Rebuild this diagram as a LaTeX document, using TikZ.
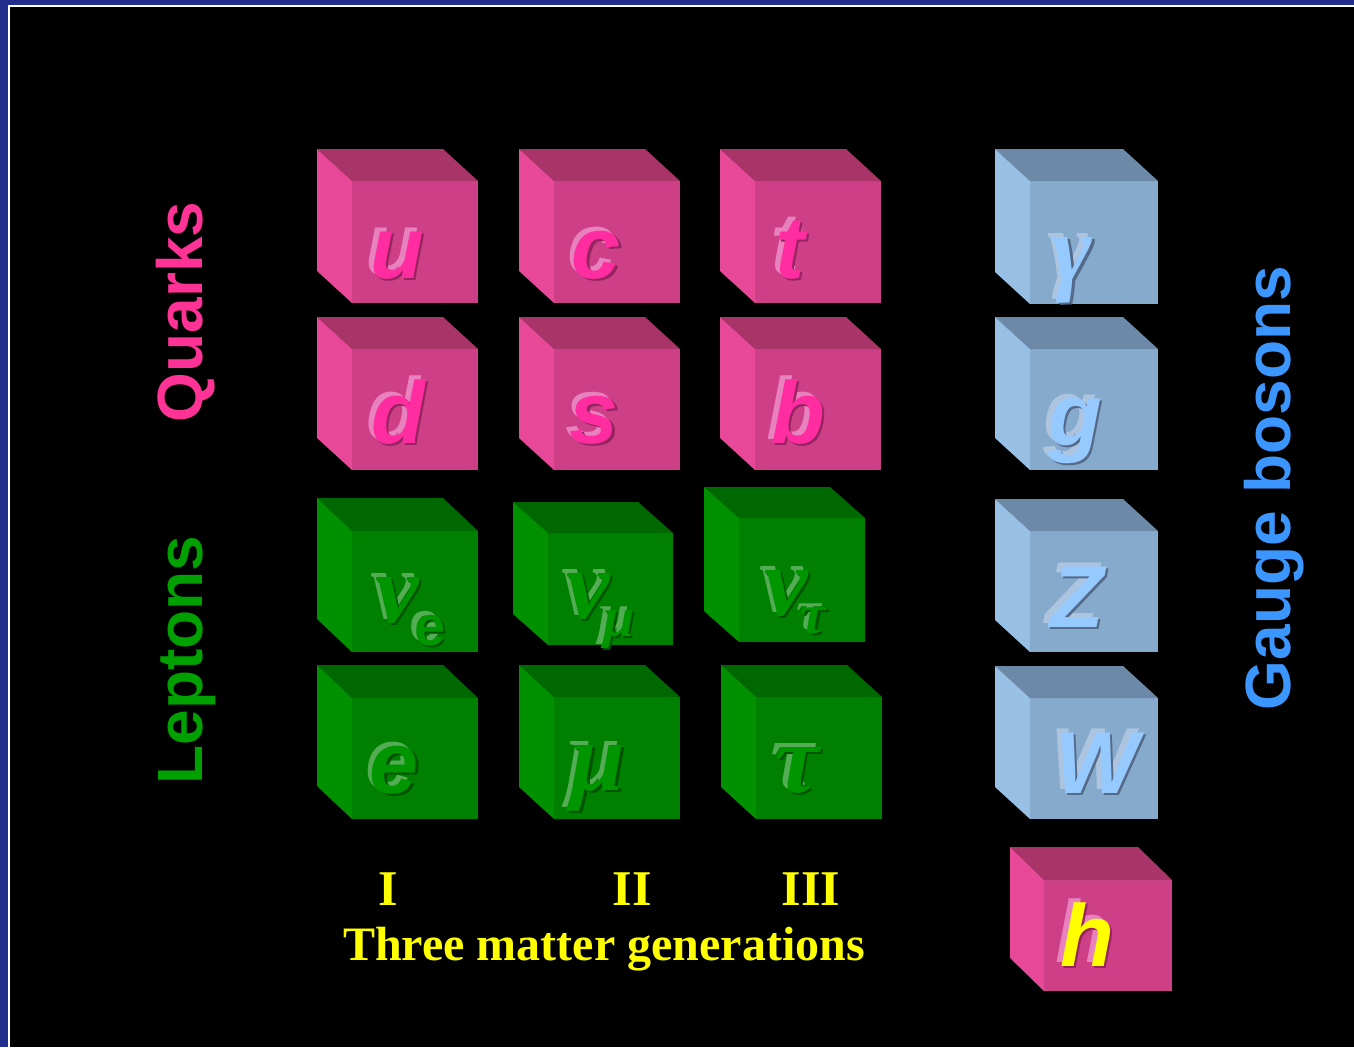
\documentclass[tikz,border=0pt]{standalone}
\usepackage{fontspec}
\newfontfamily\sansf{Liberation Sans}
\newfontfamily\serf{Liberation Serif}
\definecolor{frameblue}{RGB}{34,46,140}
\definecolor{pinkF}{RGB}{205,64,136}
\definecolor{pinkT}{RGB}{168,52,104}
\definecolor{pinkL}{RGB}{232,72,152}
\definecolor{pinkM}{RGB}{255,45,160}
\definecolor{pinkH}{RGB}{232,130,190}
\definecolor{pinkS}{RGB}{150,36,96}
\definecolor{greenF}{RGB}{0,128,0}
\definecolor{greenT}{RGB}{0,104,0}
\definecolor{greenL}{RGB}{0,144,0}
\definecolor{greenM}{RGB}{0,150,0}
\definecolor{greenH}{RGB}{84,172,84}
\definecolor{greenS}{RGB}{0,84,0}
\definecolor{blueF}{RGB}{134,170,204}
\definecolor{blueT}{RGB}{108,138,168}
\definecolor{blueL}{RGB}{152,192,228}
\definecolor{blueM}{RGB}{150,202,255}
\definecolor{blueH}{RGB}{172,196,222}
\definecolor{blueS}{RGB}{84,106,136}
\definecolor{yellowM}{RGB}{255,255,0}
\definecolor{quarkpink}{RGB}{255,50,150}
\definecolor{leptongreen}{RGB}{0,160,0}
\definecolor{gaugeblue}{RGB}{60,150,255}
\definecolor{genyellow}{RGB}{255,255,0}
\newcommand\drawcube[7]{%
  \fill[#7F] (#1,#2) rectangle (#3,#4);
  \fill[#7T] (#1,#2) -- (#1-#5,#2-#6) -- (#3-#5,#2-#6) -- (#3,#2) -- cycle;
  \fill[#7L] (#1,#2) -- (#1-#5,#2-#6) -- (#1-#5,#4-#6) -- (#1,#4) -- cycle;
}
\newcommand\glyph[6]{%
  \node[glyphtext,text=#5H] at (#2-4.5,#3-3.5) {#4};
  \node[glyphtext,text=#5S] at (#2+2.5,#3+2.5) {#4};
  \node[glyphtext,text=#6] (#1) at (#2,#3) {#4};
}
\newcommand\lat[1]{{\sansf\bfseries\itshape\fontsize{88}{88}\selectfont #1}}
\newcommand\grk[1]{{\serf\bfseries\itshape\fontsize{98}{98}\selectfont #1}}
\newcommand\subs[1]{{\sansf\bfseries\fontsize{56}{56}\selectfont #1}}
\newcommand\subg[1]{{\serf\bfseries\itshape\fontsize{56}{56}\selectfont #1}}
\begin{document}
\begin{tikzpicture}[x=1pt,y=-1pt,
  glyphtext/.style={anchor=base,inner sep=0pt},
  sidelabel/.style={anchor=base,rotate=90,inner sep=0pt,font=\sansf\bfseries\fontsize{64}{64}\selectfont},
  genlabel/.style={anchor=base,inner sep=0pt,text=genyellow,font=\serf\bfseries\fontsize{48}{48}\selectfont}]
\useasboundingbox (0,0) rectangle (1354,1047);
\fill[frameblue] (0,0) rectangle (1354,1047);
\fill[white] (7.5,4.5) rectangle (1354,1047);
\fill[black] (9.5,7) rectangle (1354,1047);
% quarks
\drawcube{352}{181}{478}{303}{35}{32}{pink}
\drawcube{554}{181}{680}{303}{35}{32}{pink}
\drawcube{755}{181}{881}{303}{35}{32}{pink}
\drawcube{352}{349}{478}{470}{35}{32}{pink}
\drawcube{554}{349}{680}{470}{35}{32}{pink}
\drawcube{755}{349}{881}{470}{35}{32}{pink}
% leptons
\drawcube{352}{531}{478}{652}{35}{33}{green}
\drawcube{548}{533}{673}{645}{35}{31}{green}
\drawcube{739}{518}{865}{642}{35}{31}{green}
\drawcube{352}{698}{478}{819}{35}{33}{green}
\drawcube{554}{697}{680}{819}{35}{32}{green}
\drawcube{756}{697}{882}{819}{35}{32}{green}
% gauge bosons
\drawcube{1030}{181}{1158}{304}{35}{32}{blue}
\drawcube{1030}{349}{1158}{470}{35}{32}{blue}
\drawcube{1030}{531}{1158}{652}{35}{32}{blue}
\drawcube{1030}{698}{1158}{819}{35}{32}{blue}
% higgs
\drawcube{1044}{880}{1172}{991}{34}{33}{pink}
% letters
\glyph{u}{397}{278}{\lat{u}}{pink}{pinkM}
\glyph{c}{596}{278}{\lat{c}}{pink}{pinkM}
\glyph{t}{790}{278}{\lat{t}}{pink}{pinkM}
\glyph{d}{398}{443}{\lat{d}}{pink}{pinkM}
\glyph{s}{594}{443}{\lat{s}}{pink}{pinkM}
\glyph{b}{798}{443}{\lat{b}}{pink}{pinkM}
\glyph{nue}{397}{622}{\grk{ν}}{green}{greenM}
\glyph{nuesub}{430}{645}{\subs{e}}{green}{greenM}
\glyph{numu}{588}{618}{\grk{ν}}{green}{greenM}
\glyph{numusub}{619}{636}{\subg{μ}}{green}{greenM}
\glyph{nutau}{786}{615}{\grk{ν}}{green}{greenM}
\glyph{nutausub}{813}{633}{\subg{τ}}{green}{greenM}
\glyph{e}{394}{793}{\lat{e}}{green}{greenM}
\glyph{mu}{598}{790}{\grk{μ}}{green}{greenM}
\glyph{tau}{797}{792}{\grk{τ}}{green}{greenM}
\glyph{gamma}{1072}{282}{\grk{γ}}{blue}{blueM}
\glyph{g}{1075}{445}{\lat{g}}{blue}{blueM}
\glyph{Z}{1077}{627}{\lat{Z}}{blue}{blueM}
\glyph{W}{1097}{793}{\lat{W}}{blue}{blueM}
\glyph{h}{1087}{966}{\lat{h}}{pink}{yellowM}
% side labels
\node[sidelabel,text=quarkpink] (quarks) at (202,312) {Quarks};
\node[sidelabel,text=leptongreen] (leptons) at (202,660) {Leptons};
\node[sidelabel,text=gaugeblue] (gauge) at (1290,488) {Gauge bosons};
% generations
\node[genlabel,font=\serf\bfseries\fontsize{50}{50}\selectfont] (genI) at (388,905) {I};
\node[genlabel,font=\serf\bfseries\fontsize{50}{50}\selectfont] (genII) at (632,905) {II};
\node[genlabel,font=\serf\bfseries\fontsize{50}{50}\selectfont] (genIII) at (811,905) {III};
\node[genlabel] (three) at (604,960) {Three matter generations};
\end{tikzpicture}
\end{document}
